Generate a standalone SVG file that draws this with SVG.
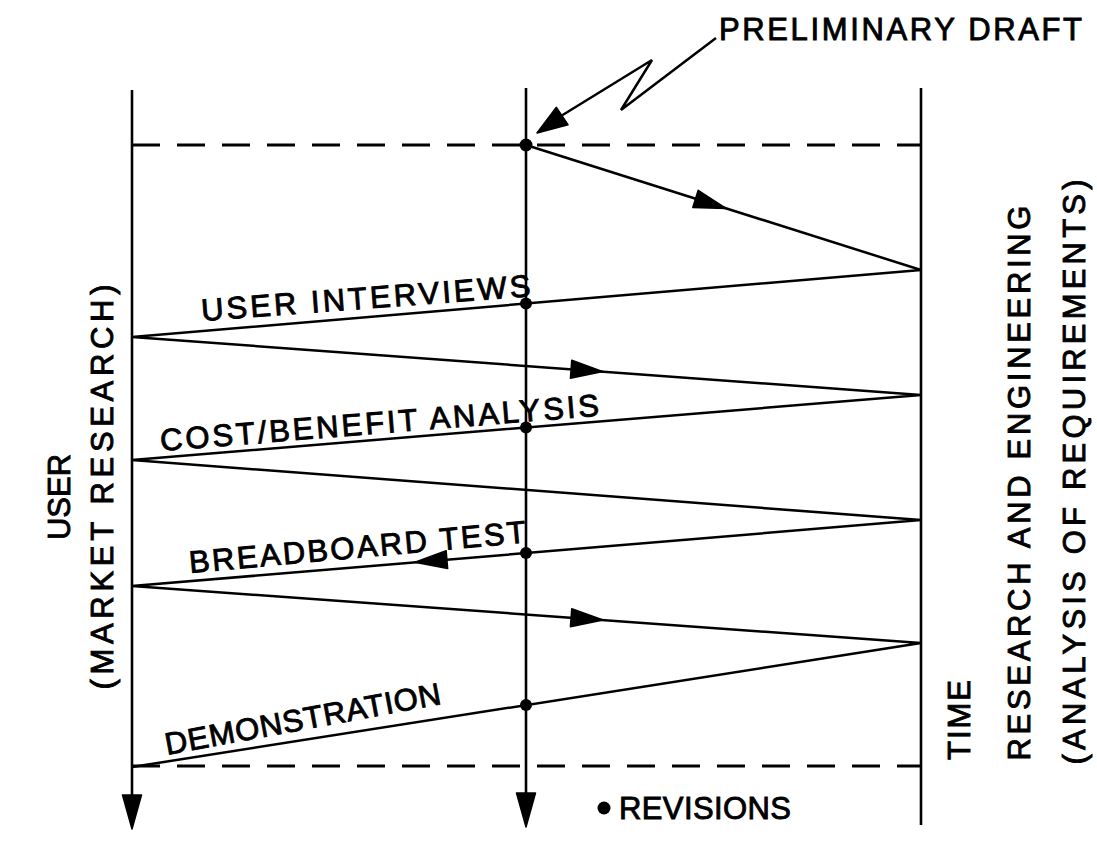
<svg xmlns="http://www.w3.org/2000/svg" xmlns:xlink="http://www.w3.org/1999/xlink" width="1097" height="849" viewBox="0 0 1097 849">
  <style>
    .ln { stroke: #000; stroke-width: 2.5; fill: none; stroke-linejoin: miter; }
    .axis { stroke: #000; stroke-width: 2.6; fill: none; }
    .dash { stroke: #000; stroke-width: 3; fill: none; stroke-dasharray: 28 17; }
    .lbl { font-family: "Liberation Sans", Arial, sans-serif; font-size: 31px; fill: #000; stroke: #000; stroke-width: 0.9; }
    .ah { fill: #000; stroke: #000; stroke-width: 1.5; stroke-linejoin: round; }
  </style>
  <defs>
    <path id="ah" d="M0,0 L-32,-9 L-32,9 Z"/>
    <path id="dn" d="M-9.5,0 L9.5,0 L0,34 Z"/>
  </defs>
  <rect width="1097" height="849" fill="#fff"/>

  <g id="timelines">
    <g id="user-line">
      <line class="axis" x1="132" y1="90" x2="132" y2="797"/>
      <use href="#dn" class="ah" transform="translate(132,795)"/>
    </g>
    <g id="revision-line">
      <line class="axis" x1="526" y1="88" x2="526" y2="795"/>
      <use href="#dn" class="ah" transform="translate(526,793)"/>
    </g>
    <g id="rd-line">
      <line class="axis" x1="921" y1="88" x2="921" y2="825"/>
    </g>
    <g id="boundaries">
      <line class="dash" x1="132" y1="145" x2="921" y2="145"/>
      <line class="dash" x1="132" y1="766" x2="921" y2="766"/>
    </g>
  </g>

  <g id="connectors">
    <polyline class="ln" points="526,145 921,270 132,337 921,395 132,460 921,520 132,586 921,643 132,767"/>
    <use href="#ah" class="ah" transform="translate(726,208.5) rotate(17.56)"/>
    <use href="#ah" class="ah" transform="translate(603,371.6) rotate(4.2)"/>
    <use href="#ah" class="ah" transform="translate(415,562.3) rotate(175.22)"/>
    <use href="#ah" class="ah" transform="translate(603,620) rotate(4.13)"/>
    <g id="draft-pointer">
      <polyline class="ln" points="716,38 621,110 652,60 561,116"/>
      <use href="#ah" class="ah" transform="translate(537,133) rotate(146) scale(0.95,1.15)"/>
    </g>
  </g>

  <g id="revisions">
    <circle cx="526" cy="145" r="6.5"/>
    <circle cx="526" cy="303.5" r="6"/>
    <circle cx="526" cy="427.5" r="6"/>
    <circle cx="526" cy="553" r="6"/>
    <circle cx="526" cy="705" r="6"/>
  </g>

  <g id="labels">
    <text class="lbl" x="719" y="40" font-size="29" textLength="363">PRELIMINARY DRAFT</text>
    <text class="lbl" transform="translate(202,321) rotate(-4.3)" textLength="330">USER INTERVIEWS</text>
    <text class="lbl" transform="translate(161,451) rotate(-4.6)" textLength="440">COST/BENEFIT ANALYSIS</text>
    <text class="lbl" transform="translate(190,573) rotate(-5.2)" textLength="338">BREADBOARD TEST</text>
    <text class="lbl" transform="translate(167,755) rotate(-10.5)" textLength="280">DEMONSTRATION</text>
    <text class="lbl" font-size="32" text-anchor="middle" transform="translate(70,497) rotate(-90)">USER</text>
    <text class="lbl" font-size="32" text-anchor="middle" transform="translate(113,487) rotate(-90)" textLength="405">(MARKET RESEARCH)</text>
    <text class="lbl" font-size="32" text-anchor="middle" transform="translate(970,720) rotate(-90)" textLength="80">TIME</text>
    <text class="lbl" font-size="32" text-anchor="middle" transform="translate(1030,483) rotate(-90)" textLength="555">RESEARCH AND ENGINEERING</text>
    <text class="lbl" font-size="32" text-anchor="middle" transform="translate(1085,472) rotate(-90)" textLength="585">(ANALYSIS OF REQUIREMENTS)</text>
    <g id="legend">
      <circle cx="604" cy="808" r="6.5"/>
      <text class="lbl" x="619" y="819" font-size="25" letter-spacing="0.4">REVISIONS</text>
    </g>
  </g>
</svg>
